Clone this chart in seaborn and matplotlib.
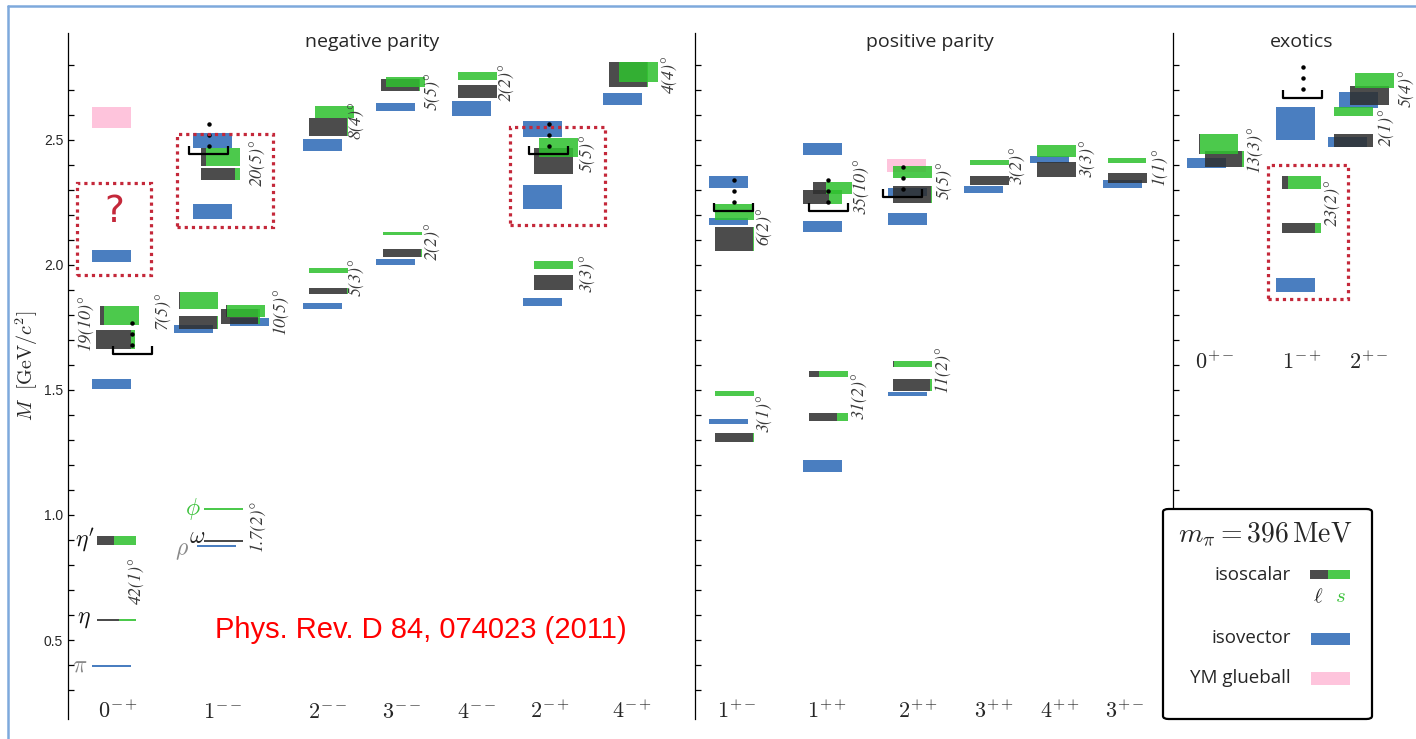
import numpy as np
import pandas as pd
import matplotlib
matplotlib.use('Agg')
import matplotlib.pyplot as plt
import seaborn as sns
from matplotlib.patches import Rectangle, FancyBboxPatch
from matplotlib.lines import Line2D
from matplotlib.ticker import FixedLocator

# ------------------------------------------------------------------ data
neg_jpc = ['0-+', '1--', '2--', '3--', '4--', '2-+', '4-+']
pos_jpc = ['1+-', '1++', '2++', '3++', '4++', '3+-']
exo_jpc = ['0+-', '1-+', '2+-']

# isovector states (mass, half-width of band) in GeV
iv_jpc = ['0-+', '0-+', '0-+', '1--', '1--', '1--', '1--', '1--', '2--', '2--',
          '3--', '3--', '4--', '2-+', '2-+', '2-+', '4-+', '1+-', '1+-', '1+-',
          '1++', '1++', '1++', '2++', '2++', '2++', '3++', '4++', '3+-', '0+-',
          '1-+', '1-+', '2+-', '2+-']
iv_mass = [0.396, 1.524, 2.036, 0.876, 1.744, 1.772, 2.214, 2.498, 1.836, 2.480,
           2.012, 2.632, 2.626, 1.852, 2.272, 2.544, 2.664, 1.374, 2.174, 2.332,
           1.196, 2.154, 2.464, 1.484, 2.184, 2.292, 2.302, 2.422, 2.324, 2.408,
           1.920, 2.566, 2.492, 2.660]
iv_err = [0.004, 0.020, 0.024, 0.004, 0.016, 0.016, 0.030, 0.030, 0.012, 0.024,
          0.012, 0.016, 0.030, 0.016, 0.048, 0.032, 0.024, 0.010, 0.014, 0.024,
          0.024, 0.022, 0.024, 0.008, 0.024, 0.016, 0.014, 0.014, 0.016, 0.020,
          0.028, 0.066, 0.020, 0.032]

# isoscalar states: mass, half-width, mixing angle (deg), mostly-light flag
is_jpc = ['0-+', '0-+', '0-+', '0-+',
          '1--', '1--', '1--', '1--', '1--', '1--', '1--', '1--',
          '2--', '2--', '2--', '2--', '3--', '3--', '3--', '3--', '4--', '4--',
          '2-+', '2-+', '2-+', '2-+', '4-+', '4-+',
          '1+-', '1+-', '1+-', '1+-', '1++', '1++', '1++', '1++',
          '2++', '2++', '2++', '2++', '3++', '3++', '4++', '4++', '3+-', '3+-',
          '0+-', '0+-', '1-+', '1-+', '2+-', '2+-', '2+-', '2+-']
is_mass = [0.580, 0.898, 1.702, 1.798,
           0.896, 1.024, 1.770, 1.858, 1.794, 1.816, 2.364, 2.432,
           1.896, 1.978, 2.552, 2.612, 2.048, 2.126, 2.720, 2.732, 2.694, 2.756,
           1.930, 2.000, 2.416, 2.470, 2.762, 2.772,
           1.310, 1.486, 2.104, 2.212, 1.392, 1.564, 2.272, 2.308,
           1.520, 1.604, 2.282, 2.372, 2.338, 2.410, 2.382, 2.456, 2.348, 2.418,
           2.424, 2.484, 2.148, 2.330, 2.498, 2.614, 2.678, 2.738]
is_err = [0.004, 0.018, 0.038, 0.038,
          0.004, 0.004, 0.026, 0.034, 0.030, 0.024, 0.024, 0.036,
          0.012, 0.010, 0.036, 0.024, 0.016, 0.006, 0.024, 0.020, 0.026, 0.016,
          0.030, 0.016, 0.052, 0.038, 0.050, 0.040,
          0.018, 0.010, 0.048, 0.032, 0.016, 0.012, 0.028, 0.024,
          0.024, 0.012, 0.034, 0.024, 0.018, 0.010, 0.030, 0.024, 0.020, 0.010,
          0.032, 0.040, 0.020, 0.026, 0.026, 0.018, 0.038, 0.030]
is_theta = [42, 42, 19, 19,
            1.7, 1.7, 7, 7, 10, 10, 20, 20,
            5, 5, 8, 8, 2, 2, 5, 5, 2, 2,
            3, 3, 5, 5, 4, 4,
            3, 3, 6, 6, 31, 31, 35, 35,
            11, 11, 5, 5, 3, 3, 3, 3, 1, 1,
            13, 13, 23, 23, 2, 2, 5, 5]
is_light = [1, 0, 1, 0,
            1, 0, 1, 0, 1, 0, 1, 0,
            1, 0, 1, 0, 1, 0, 1, 0, 1, 0,
            1, 0, 1, 0, 1, 0,
            1, 0, 1, 0, 1, 0, 1, 0,
            1, 0, 1, 0, 1, 0, 1, 0, 1, 0,
            1, 0, 1, 0, 1, 0, 1, 0]

# Yang-Mills glueballs
gb_jpc = ['0-+', '2++']
gb_mass = [2.590, 2.398]
gb_err = [0.040, 0.026]

# mixing-angle annotations
mix_jpc = ['0-+', '0-+', '1--', '1--', '1--', '1--', '2--', '2--', '3--', '3--',
           '4--', '2-+', '2-+', '4-+', '1+-', '1+-', '1++', '1++', '2++', '2++',
           '3++', '4++', '3+-', '0+-', '1-+', '2+-', '2+-']
mix_text = ['42(1)', '19(10)', '7(5)', '10(5)', '1.7(2)', '20(5)', '8(4)', '5(3)',
            '5(5)', '2(2)', '2(2)', '5(5)', '3(3)', '4(4)', '6(2)', '3(1)',
            '35(10)', '31(2)', '5(5)', '11(2)', '3(2)', '3(3)', '1(1)', '13(3)',
            '23(2)', '5(4)', '2(1)']
mix_M = [0.736, 1.768, 1.820, 1.812, 0.952, 2.408, 2.580, 1.952, 2.696, 2.096,
         2.732, 2.448, 1.968, 2.764, 2.156, 1.408, 2.316, 1.476, 2.340, 1.580,
         2.400, 2.428, 2.392, 2.460, 2.248, 2.708, 2.552]

# multi-hadron threshold markers
thr_jpc = ['0-+', '1--', '2-+', '1+-', '1++', '2++', '1-+']
thr_mass = [1.644, 2.444, 2.444, 2.216, 2.216, 2.272, 2.668]

# highlighted (dotted) regions
hl_jpc = ['0-+', '1--', '2-+', '1-+']
hl_lo = [1.960, 2.152, 2.160, 1.864]
hl_hi = [2.328, 2.524, 2.552, 2.400]

# ground-state names
gs_name = [r'$\pi$', r'$\eta$', r"$\eta'$", r'$\phi$', r'$\omega$', r'$\rho$']
gs_jpc = ['0-+', '0-+', '0-+', '1--', '1--', '1--']
gs_M = [0.396, 0.588, 0.900, 1.024, 0.912, 0.860]

# ------------------------------------------------------------------ layout
FW, FH = 1416, 739
col_x = {'0-+': 118, '1--': 223, '2--': 328, '3--': 402, '4--': 477, '2-+': 550,
         '4-+': 632, '1+-': 737, '1++': 827, '2++': 918, '3++': 994, '4++': 1060,
         '3+-': 1125, '0+-': 1215, '1-+': 1302, '2+-': 1369}
iv_dx = [-7, -7, -7, -6.5, -29.5, 26.5, -10.5, -10.5, -5.5, -5.5,
         -6.5, -6.5, -5.5, -7.5, -7.5, -7.5, -9.5, -8.5, -8.5, -8.5,
         -4.5, -4.5, -4.5, -10.5, -10.5, -10.5, -10.5, -11, -2.5, -8.5,
         -6.5, -6.5, -22, -10.5]
is_dx = [-1.5, -1.5, -2.5, 1.5,
         0.5, 0, -24.5, -24.5, 17, 22, -3, -2.5,
         0, 0, 0.5, 6, 0, 0, -2, 3, 0.5, 0,
         3.5, 3.5, 3.5, 8.5, -4, 6.5,
         -3, -2.5, -3, -3, 1, 1, -4.5, 5.5,
         -6, -6, -6, -6, -4.5, -4.5, -3.5, -3.5, 2.5, 2,
         9, 3, -0.5, -0.5, -15.5, -15.5, 0.5, 5.5]
gb_dx = [-7, -11.5]
mix_dx = [19, -32, -60, 58, 35, 35, 29, 29, 31, 31, 30, 38, 38, 38, 28, 28,
          35, 33, 27, 25, 24, 28, 35, 40, 31, 38, 18]
thr_dx = [14, -14.5, -1.5, -3.5, 1, -15.5, 0.5]
hl_x = [(-41, 33), (-46, 50), (-40, 55), (-34, 46)]
gs_dx = [-38, -34, -33, -30, -26, -41]

W = 39.0
BLUE = '#4a7ec0'
PINK = '#fec4dc'
A = 0.86


def comp(rgb):
    return tuple(max(0.0, (c - (1 - A) * 255) / A) / 255 for c in rgb)


GREY = comp((76, 76, 76))
GREEN = comp((76, 201, 76))
RED = '#c4283a'

sns.set_theme(style='white')
plt.rcParams['font.family'] = ['Open Sans', 'DejaVu Sans']
plt.rcParams['mathtext.fontset'] = 'cm'

fig = plt.figure(figsize=(FW / 100, FH / 100), dpi=100)
fig.patch.set_facecolor('white')

YLIM = (0.184, 2.928)
bot, hgt = 20 / FH, 686 / FH
pan = {'neg': (68, 695), 'pos': (695, 1173), 'exo': (1173, 1416)}
axes = {}
for k, (x0, x1) in pan.items():
    ax = fig.add_axes([x0 / FW, bot, (x1 - x0) / FW, hgt])
    ax.set_xlim(x0, x1)
    ax.set_ylim(*YLIM)
    ax.patch.set_alpha(0)
    for s in ['top', 'right', 'bottom']:
        ax.spines[s].set_visible(False)
    ax.spines['left'].set_color('black')
    ax.spines['left'].set_linewidth(0.9)
    ax.set_xticks([])
    axes[k] = ax

col_ax = {}
for j in neg_jpc:
    col_ax[j] = axes['neg']
for j in pos_jpc:
    col_ax[j] = axes['pos']
for j in exo_jpc:
    col_ax[j] = axes['exo']

majors = [0.5, 1.0, 1.5, 2.0, 2.5]
minors = [round(v, 1) for v in np.arange(0.3, 2.81, 0.1) if round(v, 1) not in majors]
for k, ax in axes.items():
    if k == 'exo':
        ax.yaxis.set_major_locator(FixedLocator([1.5, 2.0, 2.5]))
        ax.yaxis.set_minor_locator(FixedLocator([m for m in minors if m > 1.05]))
        ax.spines['left'].set_bounds(1.024, YLIM[1])
    else:
        ax.yaxis.set_major_locator(FixedLocator(majors))
        ax.yaxis.set_minor_locator(FixedLocator(minors))
    ax.tick_params(axis='y', which='both', direction='in', length=4.2, width=0.9,
                   color='black', left=True, pad=3.5)
    if k == 'neg':
        ax.set_yticklabels(['0.5', '1.0', '1.5', '2.0', '2.5'])
        for t in ax.get_yticklabels():
            t.set_fontfamily('Liberation Sans')
            t.set_fontsize(10)
    else:
        ax.tick_params(axis='y', labelleft=False)

# glueballs
for j, m, e, dx in zip(gb_jpc, gb_mass, gb_err, gb_dx):
    col_ax[j].bar(col_x[j] + dx, 2 * e, bottom=m - e, width=W, color=PINK,
                  linewidth=0, zorder=1)

# isovectors
for j, m, e, dx in zip(iv_jpc, iv_mass, iv_err, iv_dx):
    col_ax[j].bar(col_x[j] + dx, 2 * e, bottom=m - e, width=W, color=BLUE,
                  linewidth=0, zorder=2)

# isoscalars (light part grey, strange part green)
df = pd.DataFrame(dict(jpc=is_jpc, m=is_mass, e=is_err, th=is_theta,
                       light=is_light, dx=is_dx))
df['f'] = np.where(df.light == 1, np.cos(np.radians(df.th)) ** 2,
                   np.sin(np.radians(df.th)) ** 2)
df = df.sort_values('light', ascending=False, kind='stable')
for z, r in enumerate(df.itertuples()):
    ax = col_ax[r.jpc]
    x0 = col_x[r.jpc] + r.dx - W / 2
    ax.bar(x0, 2 * r.e, bottom=r.m - r.e, width=W * r.f, align='edge',
           color=GREY, alpha=A, linewidth=0, zorder=3 + z * 0.01)
    ax.bar(x0 + W * r.f, 2 * r.e, bottom=r.m - r.e, width=W * (1 - r.f),
           align='edge', color=GREEN, alpha=A, linewidth=0, zorder=3 + z * 0.01)

# thresholds: bracket + tower of dots
for j, m, dx in zip(thr_jpc, thr_mass, thr_dx):
    ax = col_ax[j]
    xc = col_x[j] + dx
    ax.plot([xc - W / 2, xc - W / 2, xc + W / 2, xc + W / 2],
            [m + 0.032, m, m, m + 0.032], color='black', lw=1.6,
            solid_capstyle='butt', zorder=6)
    ax.plot([xc] * 3, [m + 0.034 + 0.044 * k for k in range(3)], 'o',
            color='black', ms=2.2, zorder=6)

# highlighted regions
for j, lo, hi, (a, b) in zip(hl_jpc, hl_lo, hl_hi, hl_x):
    ax = col_ax[j]
    ax.add_patch(Rectangle((col_x[j] + a, lo), b - a, hi - lo, fill=False,
                           edgecolor=RED, lw=2.3, linestyle=(0, (1, 1.25)),
                           zorder=7))
axes['neg'].text(col_x['0-+'] - 4, 2.212, '?', color=RED, fontsize=27,
                 ha='center', va='center', fontfamily='DejaVu Sans')

# mixing angles
for j, t, m, dx in zip(mix_jpc, mix_text, mix_M, mix_dx):
    col_ax[j].text(col_x[j] + dx, m, t + '°', rotation=90,
                   ha='center', va='center', fontsize=13, color='#3a3a3a',
                   fontfamily='STIXGeneral', fontstyle='italic', zorder=8)

# ground-state names
gs_col = ['#8a8a8a', '#111111', '#111111', '#3cc23c', '#222222', '#8a8a8a']
for n, j, m, dx, c in zip(gs_name, gs_jpc, gs_M, gs_dx, gs_col):
    col_ax[j].text(col_x[j] + dx, m, n, ha='center', va='center', fontsize=17,
                   color=c)

# column labels
for j in neg_jpc + pos_jpc:
    col_ax[j].text(col_x[j], 0.212, r'$%s^{%s}$' % (j[0], j[1:]), ha='center',
                   va='center', fontsize=16)
for j in exo_jpc:
    col_ax[j].text(col_x[j], 1.608, r'$%s^{%s}$' % (j[0], j[1:]), ha='center',
                   va='center', fontsize=16)

# panel titles
axes['neg'].text(372, 2.892, 'negative parity', ha='center', va='center', fontsize=14)
axes['pos'].text(930, 2.892, 'positive parity', ha='center', va='center', fontsize=14)
axes['exo'].text(1302, 2.892, 'exotics', ha='center', va='center', fontsize=14)

axes['neg'].text(421, 0.540, 'Phys. Rev. D 84, 074023 (2011)', color='red',
                 ha='center', va='center', fontsize=21, fontfamily='Liberation Sans')


def fx(p):
    return p / FW


def fy(p):
    return 1 - p / FH


fig.text(fx(27), fy(366), r'$M\ \ [\mathrm{GeV}/c^2]$', rotation=90,
         ha='center', va='center', fontsize=14.5)

# legend
fig.add_artist(FancyBboxPatch((fx(1163), fy(719)), fx(1372) - fx(1163),
                              fy(509) - fy(719), boxstyle='round,pad=0,rounding_size=0.004',
                              transform=fig.transFigure, facecolor='white',
                              edgecolor='black', lw=1.6, zorder=10))
fig.text(fx(1265), fy(535), r'$m_\pi = 396\,\mathrm{MeV}$', ha='center',
         va='center', fontsize=20, zorder=11)
for lab, yy in [('isoscalar', 575), ('isovector', 638), ('YM glueball', 678)]:
    fig.text(fx(1291), fy(yy), lab, ha='right', va='center', fontsize=13.5, zorder=11)


def swatch(x0, x1, y0, y1, c):
    fig.add_artist(Rectangle((fx(x0), fy(y1)), fx(x1) - fx(x0), fy(y0) - fy(y1),
                             transform=fig.transFigure, facecolor=c, lw=0,
                             zorder=11))


swatch(1310, 1328, 570, 579, '#4c4c4c')
swatch(1328, 1350, 570, 579, '#4cc94c')
swatch(1311, 1350, 633, 645, BLUE)
swatch(1311, 1350, 672, 685, PINK)
fig.text(fx(1318), fy(597), r'$\ell$', ha='center', va='center', fontsize=15, zorder=11)
fig.text(fx(1340), fy(597), r'$s$', ha='center', va='center', fontsize=15,
         color='#3cc23c', zorder=11)

# thin blue frame at the figure's upper-left
fig.add_artist(Line2D([fx(7.5), fx(7.5)], [fy(6), 0], transform=fig.transFigure,
                      color='#7ea9dc', lw=1.8))
fig.add_artist(Line2D([fx(7.5), 1], [fy(6), fy(6)], transform=fig.transFigure,
                      color='#7ea9dc', lw=1.8))

fig.savefig('out.png', dpi=100)
